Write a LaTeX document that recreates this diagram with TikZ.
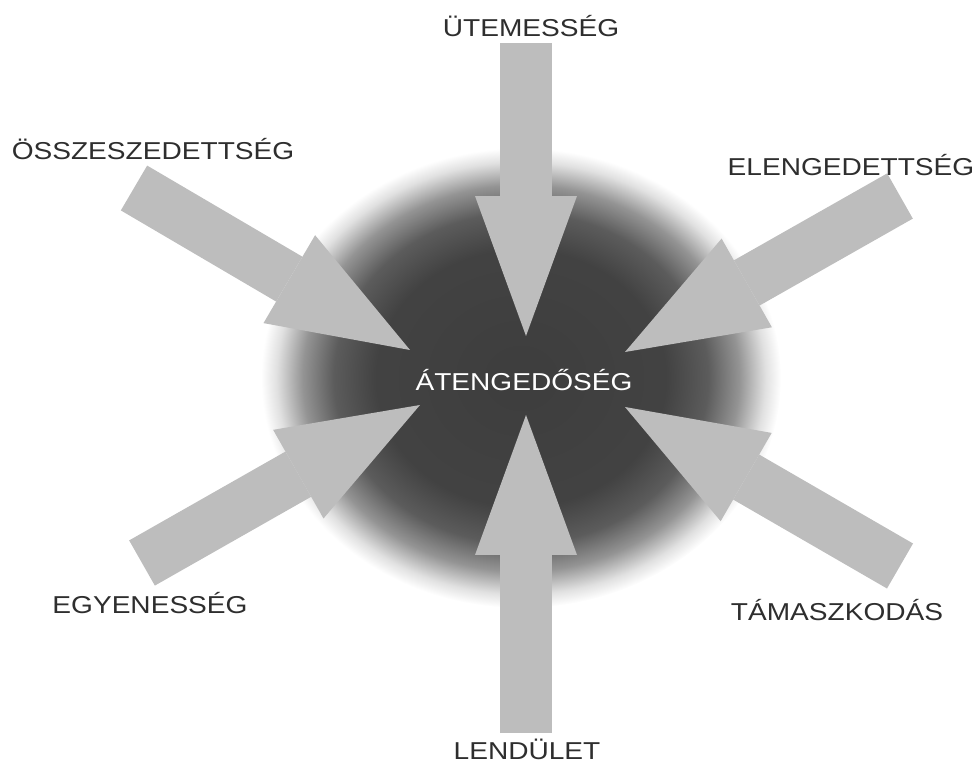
\documentclass[tikz,border=0pt]{standalone}
\usepackage{fontspec}
\setmainfont[FakeStretch=1.15]{Liberation Sans}
\usetikzlibrary{arrows.meta}

% soft dark blob behind the arrows
\pgfdeclareradialshading{blob}{\pgfpoint{0bp}{0bp}}{%
  color(0bp)=(black!76); color(14bp)=(black!74); color(18bp)=(black!64);
  color(21bp)=(black!42); color(23.5bp)=(black!12); color(25bp)=(white);
  color(50bp)=(white)}

\begin{document}
\begin{tikzpicture}[
    x = 0.02cm, y = -0.02cm,
    font      = \fontsize{13.9}{16}\selectfont,
    lbl/.style = {text=black!82, inner sep=0pt},
    blk/.style = {draw=gray!52, line width=1.04cm,
                  -{Triangle[width=2.04cm, length=2.8cm, line width=0pt]}},
  ]
  \useasboundingbox (0,0) rectangle (977,763);
  \shade[shading=blob] (521,378) ellipse [x radius=5.2cm, y radius=4.6cm];

  % tails and tips of the arrows
  \coordinate (utT) at (526,43);   \coordinate (utH) at (526,336);
  \coordinate (leT) at (526,733);  \coordinate (leH) at (526,415);
  \coordinate (osT) at (134,188);  \coordinate (osH) at (410,350);
  \coordinate (elT) at (900,196);  \coordinate (elH) at (625,352);
  \coordinate (egT) at (142,563);  \coordinate (egH) at (420,405);
  \coordinate (taT) at (900,566);  \coordinate (taH) at (625,407);

  \draw[blk] (utT) -- (utH);
  \draw[blk] (leT) -- (leH);
  \draw[blk] (osT) -- (osH);
  \draw[blk] (elT) -- (elH);
  \draw[blk] (egT) -- (egH);
  \draw[blk] (taT) -- (taH);

  \node[text=white, inner sep=0pt] (aten) at (524,380) {ÁTENGEDŐSÉG};
  \node[lbl] (utem) at (531,26)  {ÜTEMESSÉG};
  \node[lbl] (lend) at (527,749) {LENDÜLET};
  \node[lbl] (ossz) at (153,149) {ÖSSZESZEDETTSÉG};
  \node[lbl] (elen) at (851,165) {ELENGEDETTSÉG};
  \node[lbl] (egye) at (150,603) {EGYENESSÉG};
  \node[lbl] (tama) at (837,610) {TÁMASZKODÁS};
\end{tikzpicture}
\end{document}
